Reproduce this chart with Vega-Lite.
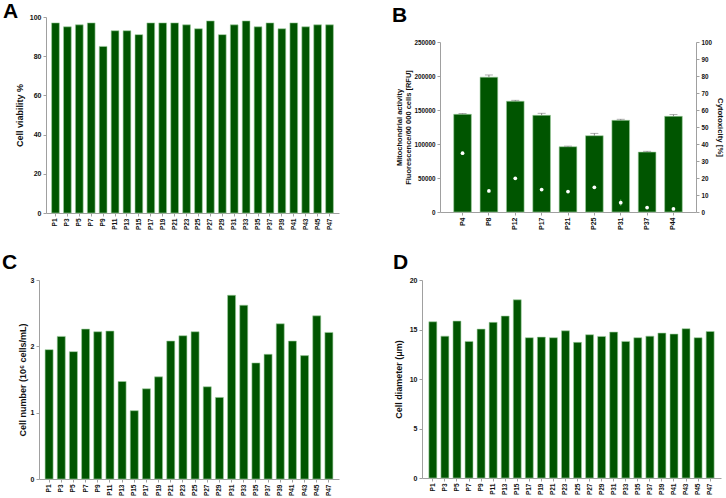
{
  "$schema": "https://vega.github.io/schema/vega-lite/v6.json",
  "description": "Four panel bar chart: viability, mitochondrial activity, cell number, cell diameter",
  "padding": {"left": 2, "top": 1, "right": 2, "bottom": 0},
  "datasets": {
    "viab": [
      {"p": "P1", "v": 97}, {"p": "P3", "v": 95}, {"p": "P5", "v": 96}, {"p": "P7", "v": 97},
      {"p": "P9", "v": 85}, {"p": "P11", "v": 93}, {"p": "P13", "v": 93}, {"p": "P15", "v": 91},
      {"p": "P17", "v": 97}, {"p": "P19", "v": 97}, {"p": "P21", "v": 97}, {"p": "P23", "v": 96},
      {"p": "P25", "v": 94}, {"p": "P27", "v": 98}, {"p": "P29", "v": 91}, {"p": "P31", "v": 96},
      {"p": "P33", "v": 98}, {"p": "P35", "v": 95}, {"p": "P37", "v": 97}, {"p": "P39", "v": 94},
      {"p": "P41", "v": 97}, {"p": "P43", "v": 95}, {"p": "P45", "v": 96}, {"p": "P47", "v": 96}
    ],
    "mito": [
      {"p": "P4", "rfu": 143700, "rfu_hi": 144800, "cyto": 34.6, "cyto_lo": 33.8, "cyto_hi": 35.4},
      {"p": "P8", "rfu": 198300, "rfu_hi": 201500, "cyto": 12.4, "cyto_lo": 11.6, "cyto_hi": 13.2},
      {"p": "P12", "rfu": 162900, "rfu_hi": 164300, "cyto": 19.8, "cyto_lo": 19.2, "cyto_hi": 20.4},
      {"p": "P17", "rfu": 142200, "rfu_hi": 145200, "cyto": 13.2, "cyto_lo": 12.6, "cyto_hi": 13.8},
      {"p": "P21", "rfu": 96000, "rfu_hi": 96900, "cyto": 12.0, "cyto_lo": 11.5, "cyto_hi": 12.5},
      {"p": "P25", "rfu": 112200, "rfu_hi": 115700, "cyto": 14.5, "cyto_lo": 13.9, "cyto_hi": 15.1},
      {"p": "P31", "rfu": 134800, "rfu_hi": 136400, "cyto": 5.5, "cyto_lo": 3.6, "cyto_hi": 7.4},
      {"p": "P37", "rfu": 88100, "rfu_hi": 89300, "cyto": 2.6, "cyto_lo": 2.1, "cyto_hi": 3.1},
      {"p": "P44", "rfu": 140700, "rfu_hi": 143200, "cyto": 1.8, "cyto_lo": 1.3, "cyto_hi": 2.3}
    ],
    "count": [
      {"p": "P1", "n": 1.95}, {"p": "P3", "n": 2.15}, {"p": "P5", "n": 1.92}, {"p": "P7", "n": 2.26},
      {"p": "P9", "n": 2.22}, {"p": "P11", "n": 2.23}, {"p": "P13", "n": 1.47}, {"p": "P15", "n": 1.03},
      {"p": "P17", "n": 1.36}, {"p": "P19", "n": 1.54}, {"p": "P21", "n": 2.08}, {"p": "P23", "n": 2.16},
      {"p": "P25", "n": 2.22}, {"p": "P27", "n": 1.39}, {"p": "P29", "n": 1.23}, {"p": "P31", "n": 2.77},
      {"p": "P33", "n": 2.62}, {"p": "P35", "n": 1.75}, {"p": "P37", "n": 1.88}, {"p": "P39", "n": 2.34},
      {"p": "P41", "n": 2.08}, {"p": "P43", "n": 1.86}, {"p": "P45", "n": 2.46}, {"p": "P47", "n": 2.21}
    ],
    "diam": [
      {"p": "P1", "d": 15.78}, {"p": "P3", "d": 14.33}, {"p": "P5", "d": 15.85}, {"p": "P7", "d": 13.8},
      {"p": "P9", "d": 15.04}, {"p": "P11", "d": 15.72}, {"p": "P13", "d": 16.36}, {"p": "P15", "d": 18.0},
      {"p": "P17", "d": 14.17}, {"p": "P19", "d": 14.23}, {"p": "P21", "d": 14.17}, {"p": "P23", "d": 14.87},
      {"p": "P25", "d": 13.7}, {"p": "P27", "d": 14.47}, {"p": "P29", "d": 14.3}, {"p": "P31", "d": 14.74},
      {"p": "P33", "d": 13.8}, {"p": "P35", "d": 14.17}, {"p": "P37", "d": 14.33}, {"p": "P39", "d": 14.64},
      {"p": "P41", "d": 14.54}, {"p": "P43", "d": 15.08}, {"p": "P45", "d": 14.17}, {"p": "P47", "d": 14.8}
    ]
  },
  "config": {
    "font": "Liberation Sans",
    "view": {"stroke": null},
    "title": {"fontSize": 21, "fontWeight": "bold", "anchor": "start", "frame": "group", "color": "#000"},
    "axis": {
      "grid": false,
      "labelOverlap": false,
      "domainColor": "#a0a0a0",
      "tickColor": "#a0a0a0",
      "tickSize": 3,
      "labelFont": "Liberation Sans",
      "labelFontSize": 7,
      "labelFontWeight": "bold",
      "labelColor": "#111",
      "labelPadding": 2,
      "titleFont": "Liberation Sans",
      "titleFontSize": 9,
      "titleFontWeight": "bold",
      "titleColor": "#111"
    },
    "axisX": {"labelFontSize": 6.5, "labelAngle": -90, "title": null},
    "bar": {"color": "#005500", "stroke": "#9fd09f", "strokeWidth": 0.6}
  },
  "vconcat": [
    {
      "spacing": 53,
      "hconcat": [
        {
          "title": {"text": "A", "dx": -36, "offset": -9},
          "width": 300,
          "height": 196,
          "data": {"name": "viab"},
          "mark": "bar",
          "encoding": {
            "x": {"field": "p", "type": "nominal", "sort": null,
                  "scale": {"paddingInner": 0.35, "paddingOuter": 0.47, "range": [7, 300]}},
            "y": {"field": "v", "type": "quantitative",
                  "scale": {"domain": [0, 100]},
                  "axis": {"title": "Cell viability %", "values": [0, 20, 40, 60, 80, 100],
                           "offset": -7, "labelOverlap": false, "titlePadding": 5}}
          }
        },
        {
          "title": {"text": "B", "dx": -48, "offset": -9},
          "width": 256,
          "height": 195,
          "data": {"name": "mito"},
          "layer": [
            {
              "mark": "bar",
              "encoding": {
                "x": {"field": "p", "type": "nominal", "sort": null,
                      "scale": {"paddingInner": 0.33, "paddingOuter": 0.52},
                      "axis": {"labelFontSize": 7}},
                "y": {"field": "rfu", "type": "quantitative",
                      "scale": {"domain": [0, 250000], "range": [195, 25]},
                      "axis": {"title": ["Mitochondrial activity", "Fluorescence/60 000 cells [RFU]"],
                               "titleFontSize": 7.5, "labelFontSize": 6.3, "format": "d",
                               "labelOverlap": false,
                               "values": [0, 50000, 100000, 150000, 200000, 250000], "titlePadding": 1}}
              }
            },
            {
              "mark": {"type": "rule", "color": "#707070", "strokeWidth": 0.8},
              "encoding": {
                "x": {"field": "p", "type": "nominal", "sort": null},
                "y": {"field": "rfu", "type": "quantitative",
                      "scale": {"domain": [0, 250000], "range": [195, 25]}, "axis": null},
                "y2": {"field": "rfu_hi"}
              }
            },
            {
              "mark": {"type": "tick", "color": "#707070", "size": 8, "thickness": 0.8},
              "encoding": {
                "x": {"field": "p", "type": "nominal", "sort": null},
                "y": {"field": "rfu_hi", "type": "quantitative",
                      "scale": {"domain": [0, 250000], "range": [195, 25]}, "axis": null}
              }
            },
            {
              "mark": {"type": "rule", "color": "#5fbf5f", "strokeWidth": 0.8},
              "encoding": {
                "x": {"field": "p", "type": "nominal", "sort": null},
                "y": {"field": "cyto_lo", "type": "quantitative",
                      "scale": {"domain": [0, 100], "range": [195, 25]}, "axis": null},
                "y2": {"field": "cyto_hi"}
              }
            },
            {
              "mark": {"type": "circle", "color": "#ffffff", "opacity": 1, "size": 14},
              "encoding": {
                "x": {"field": "p", "type": "nominal", "sort": null},
                "y": {"field": "cyto", "type": "quantitative",
                      "scale": {"domain": [0, 100], "range": [195, 25]},
                      "axis": {"orient": "right", "title": "Cytotoxicity [%]", "titleFontSize": 7.8,
                               "titleAngle": 90, "labelFontSize": 6.3, "labelOverlap": false,
                               "values": [0, 10, 20, 30, 40, 50, 60, 70, 80, 90, 100], "titlePadding": 4}}
              }
            }
          ],
          "resolve": {"scale": {"y": "independent"}, "axis": {"y": "independent"}}
        }
      ]
    },
    {
      "spacing": 54,
      "hconcat": [
        {
          "title": {"text": "C", "dx": -37, "offset": 3},
          "width": 300,
          "height": 199,
          "data": {"name": "count"},
          "mark": "bar",
          "encoding": {
            "x": {"field": "p", "type": "nominal", "sort": null,
                  "scale": {"paddingInner": 0.34, "paddingOuter": 0.5}},
            "y": {"field": "n", "type": "quantitative",
                  "scale": {"domain": [0, 3]},
                  "axis": {"title": "Cell number (10⁶ cells/mL)", "values": [0, 1, 2, 3],
                           "labelOverlap": false, "titlePadding": 3}}
          }
        },
        {
          "title": {"text": "D", "dx": -29, "offset": 3},
          "width": 299,
          "height": 198,
          "data": {"name": "diam"},
          "mark": "bar",
          "encoding": {
            "x": {"field": "p", "type": "nominal", "sort": null,
                  "scale": {"paddingInner": 0.34, "paddingOuter": 0.57}},
            "y": {"field": "d", "type": "quantitative",
                  "scale": {"domain": [0, 20]},
                  "axis": {"title": "Cell diameter (μm)", "values": [0, 5, 10, 15, 20],
                           "labelOverlap": false, "titlePadding": 6}}
          }
        }
      ]
    }
  ],
  "spacing": 22
}
